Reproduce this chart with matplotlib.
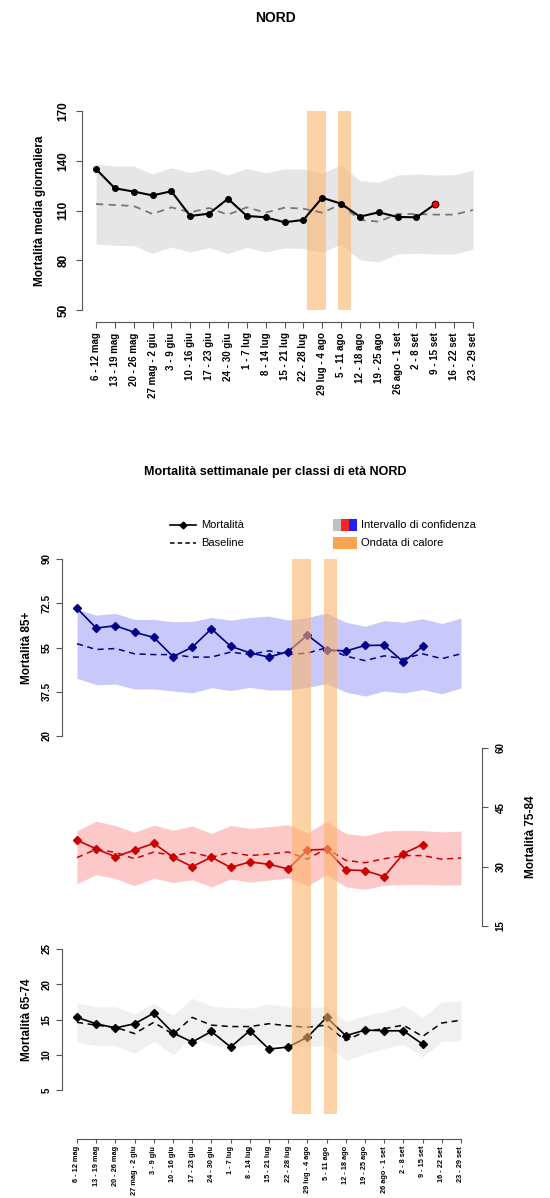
import matplotlib
matplotlib.use("Agg")
import matplotlib.pyplot as plt
import numpy as np
from matplotlib.patches import Rectangle
from matplotlib.lines import Line2D

plt.rcParams['font.family'] = ['Liberation Sans', 'DejaVu Sans']
plt.rcParams['font.weight'] = 'bold'

weeks = ["6 - 12 mag", "13 - 19 mag", "20 - 26 mag", "27 mag - 2 giu", "3 - 9 giu", "10 - 16 giu",
         "17 - 23 giu", "24 - 30 giu", "1 - 7 lug", "8 - 14 lug", "15 - 21 lug", "22 - 28 lug",
         "29 lug - 4 ago", "5 - 11 ago", "12 - 18 ago", "19 - 25 ago", "26 ago - 1 set", "2 - 8 set",
         "9 - 15 set", "16 - 22 set", "23 - 29 set"]
heatwaves = [(11.2, 12.2), (12.85, 13.55)]

tot_obs = [135, 123.4, 121.4, 119.1, 121.6, 106.7, 108.1, 117.1, 106.7, 105.9, 102.9, 104.3, 117.7, 114.1, 106.3, 108.9, 106.1, 105.9, 113.9]
tot_base = [113.9, 113.3, 112.7, 107.9, 111.9, 108.9, 111.5, 107.5, 111.9, 108.7, 111.7, 111.1, 108.7, 113.7, 104.3, 103.3, 107.9, 107.9, 107.5, 107.5, 110.3]
tot_up = [138, 136.8, 136.8, 132, 135.8, 132.8, 135.2, 131.4, 135.4, 132.8, 135, 135, 132.4, 137.4, 128, 127, 131.4, 132, 131.4, 131.6, 134.4]
tot_lo = [89.8, 89, 88.8, 84.2, 88, 85, 87.6, 84, 87.8, 85, 87.4, 87.2, 84.8, 89.8, 80.2, 79.1, 83.8, 84.2, 83.8, 83.8, 86.6]

o85 = [70.5, 62.7, 63.6, 61, 59, 51.4, 55.1, 62.4, 55.5, 52.9, 51.2, 53.4, 59.9, 54.1, 53.6, 55.8, 55.9, 49.3, 55.4]
b85 = [56.5, 54.2, 54.6, 52.5, 52.2, 52.2, 51.2, 51.2, 53.2, 52.2, 53.7, 52.2, 52.8, 54.9, 51.6, 49.8, 51.7, 50.6, 52.5, 50.6, 52.5]
u85 = [70.2, 67.8, 68.5, 66.1, 66.1, 65.2, 65.3, 66.9, 65.8, 66.9, 67.4, 65.8, 66.9, 68.6, 65, 63.4, 65.6, 65, 66.4, 64.5, 66.6]
l85 = [42.8, 40.3, 40.5, 38.6, 38.6, 37.8, 37.1, 39.1, 38, 39.2, 38.2, 38.2, 39.2, 40.7, 37.4, 35.8, 37.8, 37, 38.4, 36.7, 39]

o75 = [36.7, 34.5, 32.5, 34.2, 35.9, 32.4, 30, 32.4, 29.8, 31.2, 30.6, 29.4, 34.2, 34.4, 29.2, 29, 27.5, 33.3, 35.6]
b75 = [32.3, 34.4, 33.6, 32, 33.7, 32.8, 33.6, 32.4, 33.6, 32.8, 33.2, 33.7, 31.9, 34.6, 31.6, 31, 32, 32.8, 32.8, 31.9, 32.2]
u75 = [39.1, 41.5, 40.4, 38.7, 40.5, 39.2, 40.3, 38.4, 40.4, 39.7, 40.1, 40.6, 38.5, 41.5, 38.4, 37.8, 39, 39.2, 39.1, 38.8, 39]
l75 = [25.7, 28, 27, 25.2, 27.1, 26, 26.7, 24.9, 26.9, 26.1, 26.6, 27.2, 25.1, 28, 24.9, 24.3, 25.3, 25.5, 25.5, 25.4, 25.4]

o65 = [15.3, 14.4, 13.8, 14.4, 15.9, 13.1, 11.8, 13.3, 11.1, 13.4, 10.8, 11.1, 12.5, 15.3, 12.7, 13.5, 13.4, 13.4, 11.5]
b65 = [14.6, 14.2, 13.9, 13, 14.6, 12.9, 15.3, 14.2, 14, 14, 14.4, 14.1, 13.9, 14.2, 12, 13.3, 13.7, 14.2, 12.6, 14.5, 14.9]
u65 = [17.3, 16.8, 16.8, 15.8, 17.3, 15.6, 18, 16.9, 16.7, 16.6, 17.2, 16.8, 16.7, 16.8, 14.7, 15.6, 16.1, 17, 15.3, 17.5, 17.6]
l65 = [11.8, 11.3, 11.3, 10.2, 11.9, 10, 12.5, 11.4, 11, 11.4, 11.6, 11.3, 11.1, 11.4, 9.2, 10.1, 10.9, 11.5, 9.7, 11.9, 12]

W, H = 550, 1198
fig = plt.figure(figsize=(W/100, H/100), dpi=100)

def ax_px(x0, y0, x1, y1, **kw):
    return fig.add_axes([x0/W, 1-y1/H, (x1-x0)/W, (y1-y0)/H], **kw)

ORANGE = '#fdb46b'
x = np.arange(len(weeks))
xo = np.arange(len(tot_obs))

def style(ax):
    for s in ['top', 'right', 'left', 'bottom']:
        ax.spines[s].set_visible(False)
    ax.patch.set_alpha(0)
    ax.tick_params(axis='both', labelsize=7, color='#555555', length=4, width=0.8)
    ax.set_xticks([])

# ---- Top chart
pxl, pxr = 82, 487
sc = (473-96)/20
ax = ax_px(pxl, 111, pxr, 310)
ax.set_xlim(-(96-pxl)/sc, 20+(pxr-473)/sc)
ax.set_ylim(50, 170)
style(ax)
ax.spines['left'].set_visible(True)
ax.spines['left'].set_color('#555555')
ax.set_yticks([50, 80, 110, 140, 170])
ax.set_yticklabels(['50', '80', '110', '140', '170'], rotation=90, va='center', fontsize=8.5)
ax.tick_params(axis='y', pad=5)
ax.fill_between(x, tot_lo, tot_up, color='#e6e6e6', lw=0)
ax.plot(x, tot_base, '--', color='#777777', lw=1.3, dashes=(4, 3))
ax.plot(xo, tot_obs, '-', color='black', lw=1.5, marker='o', ms=4)
ax.plot(xo[-1], tot_obs[-1], 'o', color='red', mec='black', mew=0.6, ms=5)
for a, b in heatwaves:
    ax.axvspan(a, b, color=ORANGE, alpha=0.6, lw=0)
ax.set_ylabel('Mortalità media giornaliera', fontsize=8.5, fontweight='bold', labelpad=8)
ax.spines['bottom'].set_visible(True)
ax.spines['bottom'].set_position(('outward', 8.6))
ax.spines['bottom'].set_bounds(0, 20)
ax.spines['bottom'].set_color('#555555')
ax.set_xticks(x)
ax.set_xticklabels(weeks, rotation=90, fontsize=7, fontweight='bold')
fig.text(0.5, 1-18/H, 'NORD', ha='center', va='center', fontsize=10, fontweight='bold')

# ---- Bottom chart
bl, br = 62, 476
sc2 = (461-77)/20
xlim2 = (-(77-bl)/sc2, 20+(br-461)/sc2)
fig.text(0.5, 1-472/H, 'Mortalità settimanale per classi di età NORD', ha='center', va='center',
         fontsize=9, fontweight='bold')

# 85+
a1 = ax_px(bl, 559, br, 736)
a1.set_xlim(*xlim2); a1.set_ylim(20, 90)
style(a1)
a1.spines['left'].set_visible(True); a1.spines['left'].set_color('#555555')
a1.set_yticks([20, 37.5, 55, 72.5, 90])
a1.set_yticklabels(['20', '37.5', '55', '72.5', '90'], rotation=90, va='center', fontsize=7)
a1.fill_between(x, l85, u85, color='#c8c8fa', lw=0)
a1.plot(x, b85, '--', color='#00008b', lw=1.1, dashes=(4, 3))
a1.plot(xo, o85, '-', color='#00008b', lw=1.2, marker='D', ms=4)
a1.set_ylabel('Mortalità 85+', fontsize=8.5, fontweight='bold', labelpad=6)

# 75-84
a2 = ax_px(bl, 748, br, 926)
a2.set_xlim(*xlim2); a2.set_ylim(15, 60)
style(a2)
a2.spines['right'].set_visible(True); a2.spines['right'].set_color('#555555')
a2.spines['right'].set_position(('outward', 4.3))
a2.yaxis.tick_right(); a2.yaxis.set_label_position('right')
a2.set_yticks([15, 30, 45, 60])
a2.set_yticklabels(['15', '30', '45', '60'], rotation=90, va='center', fontsize=7)
a2.tick_params(axis='y', pad=6)
a2.fill_between(x, l75, u75, color='#fdc8c8', lw=0)
a2.plot(x, b75, '--', color='#cc0000', lw=1.1, dashes=(4, 3))
a2.plot(xo, o75, '-', color='#cc0000', lw=1.2, marker='D', ms=4)
a2.set_ylabel('Mortalità 75-84', fontsize=8.5, fontweight='bold', labelpad=14, rotation=90)

# 65-74
a3 = ax_px(bl, 949, br, 1090)
a3.set_xlim(*xlim2); a3.set_ylim(5, 25)
style(a3)
a3.spines['left'].set_visible(True); a3.spines['left'].set_color('#555555')
a3.set_yticks([5, 10, 15, 20, 25])
a3.set_yticklabels(['5', '10', '15', '20', '25'], rotation=90, va='center', fontsize=7)
a3.fill_between(x, l65, u65, color='#f0f0f0', lw=0)
a3.plot(x, b65, '--', color='black', lw=1.1, dashes=(4, 3))
a3.plot(xo, o65, '-', color='black', lw=1.2, marker='D', ms=4)
a3.set_ylabel('Mortalità 65-74', fontsize=8.5, fontweight='bold', labelpad=6)
a3.spines['bottom'].set_visible(True)
a3.spines['bottom'].set_position(('outward', 35.3))
a3.spines['bottom'].set_bounds(0, 20)
a3.spines['bottom'].set_color('#555555')
a3.set_xticks(x)
a3.set_xticklabels(weeks, rotation=90, fontsize=5.3, fontweight='bold')
a3.tick_params(axis='x', pad=2, length=3)

# heatwave bands across bottom chart
ab = ax_px(bl, 559, br, 1114)
ab.set_xlim(*xlim2); ab.set_ylim(0, 1)
ab.axis('off')
for a, b in heatwaves:
    ab.axvspan(a, b, color=ORANGE, alpha=0.6, lw=0)

# legend
def fx(p): return p/W
def fy(p): return 1-p/H
fig.add_artist(Line2D([fx(170), fx(196)], [fy(525), fy(525)], color='black', lw=1.2))
fig.add_artist(Line2D([fx(183)], [fy(525)], color='black', marker='D', ms=3.5))
fig.text(fx(201), fy(525), 'Mortalità', va='center', fontsize=8, fontweight='normal')
fig.add_artist(Line2D([fx(170), fx(196)], [fy(543), fy(543)], color='black', lw=1.1, ls='--', dashes=(3, 2)))
fig.text(fx(201), fy(543), 'Baseline', va='center', fontsize=8, fontweight='normal')
for i, c in enumerate(['#c0c0c0', '#ff2020', '#2020ff']):
    fig.add_artist(Rectangle((fx(333+i*8), fy(531)), 8/W, 12/H, color=c, lw=0))
fig.text(fx(361), fy(525), 'Intervallo di confidenza', va='center', fontsize=8, fontweight='normal')
fig.add_artist(Rectangle((fx(333), fy(549)), 24/W, 12/H, color='#fca550', lw=0))
fig.text(fx(361), fy(543), 'Ondata di calore', va='center', fontsize=8, fontweight='normal')

fig.savefig('out.png', dpi=100)
